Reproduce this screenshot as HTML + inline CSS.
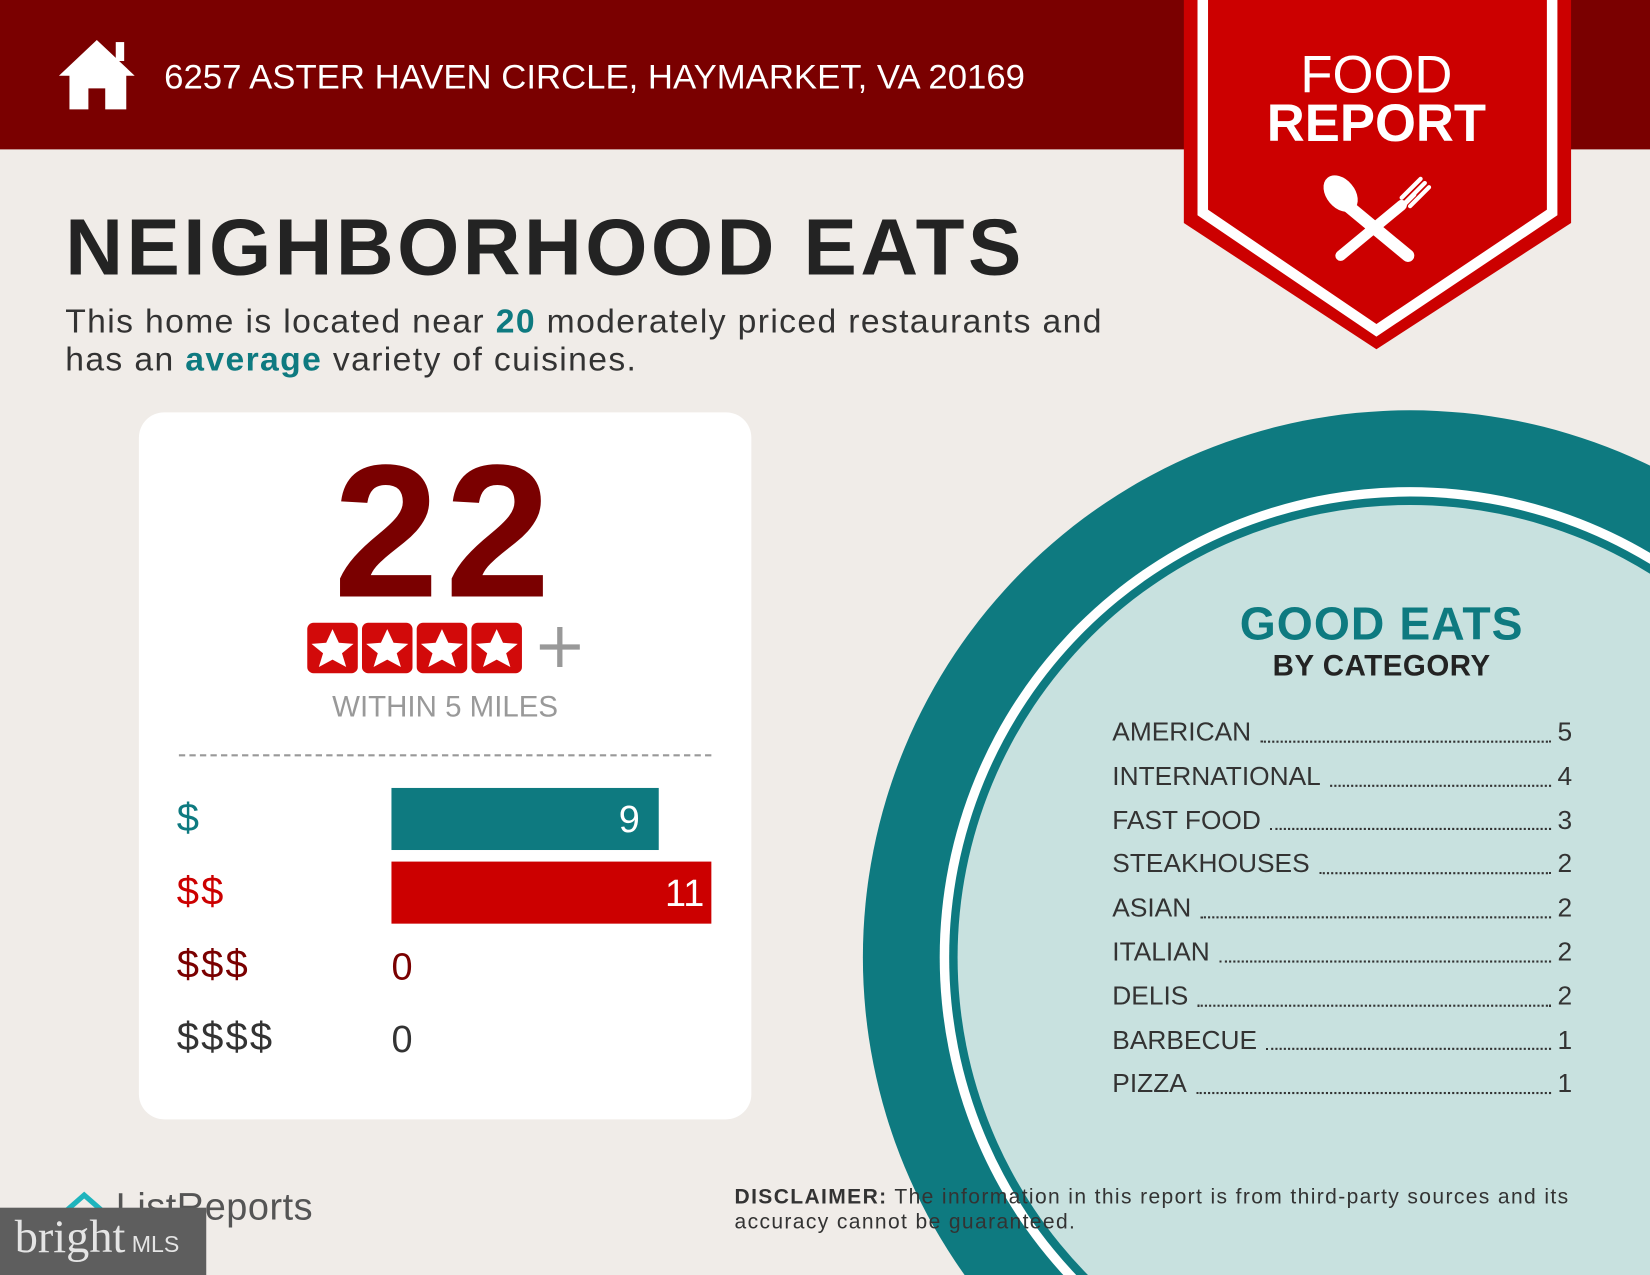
<!DOCTYPE html>
<html><head><meta charset="utf-8"><style>
*{margin:0;padding:0;box-sizing:border-box}
html,body{width:1650px;height:1275px;overflow:hidden;background:#f0ece8}
#w{position:absolute;left:0;top:0;width:1568px;height:1212px;transform:scale(1.05230,1.0520);transform-origin:0 0;font-family:"Liberation Sans",sans-serif;overflow:hidden}
.a{position:absolute;white-space:nowrap}
</style></head><body><div id="w">
<svg class="a" style="left:0;top:0" width="1568" height="1212">
<circle cx="1340" cy="910" r="520" fill="#0e7a80"/>
<circle cx="1340" cy="910" r="447" fill="#fff"/>
<circle cx="1340" cy="910" r="438" fill="#0e7a80"/>
<circle cx="1340" cy="910" r="430" fill="#c8e1df"/>
<rect x="0" y="0" width="1568" height="142" fill="#7a0000"/>
<polygon points="1125,0 1493,0 1493,212 1308,332 1125,212" fill="#cc0000"/>
<polyline points="1143,0 1143,202 1308,314 1475,202 1475,0" fill="none" stroke="#fff" stroke-width="10"/>
<g fill="#fff">
<path d="M56,72 L92,38 L128,72 L120,72 L120,104 L100,104 L100,84 L84,84 L84,104 L66,104 L66,72Z"/>
<rect x="110" y="40" width="8" height="18"/>
</g>
<g stroke="#fff" stroke-linecap="round" fill="#fff">
<line x1="1280" y1="195" x2="1338" y2="243" stroke-width="12"/>
<ellipse cx="1274" cy="184" rx="13" ry="19" transform="rotate(-40 1274 184)"/>
<line x1="1274" y1="243" x2="1332" y2="195" stroke-width="10"/>
<path d="M1327,202 L1344,185 M1332,188 L1350,170 M1336,192 L1354,174 M1340,196 L1358,178" stroke-width="4"/>
</g>
<rect x="132" y="392" width="582" height="672" rx="24" fill="#fff"/>
<line x1="170" y1="718" x2="676" y2="718" stroke="#999" stroke-width="2" stroke-dasharray="6,4"/>
<g fill="#d20a0a">
<rect x="292" y="592" width="48" height="48" rx="6"/><rect x="344" y="592" width="48" height="48" rx="6"/><rect x="396" y="592" width="48" height="48" rx="6"/><rect x="448" y="592" width="48" height="48" rx="6"/>
</g>
<g fill="#fff">
<polygon id="s" points="316,598 322,611 336,612 325,621 329,634 316,627 303,634 307,621 296,612 310,611"/>
<use href="#s" x="52"/><use href="#s" x="104"/><use href="#s" x="156"/>
</g>
<path d="M513,615 h38 M532,596 v38" stroke="#999" stroke-width="5"/>
<rect x="372" y="749" width="254" height="59" fill="#0e7a80"/>
<rect x="372" y="819" width="304" height="59" fill="#cc0000"/>
<path d="M64,1150 L80,1136 L96,1150" fill="none" stroke="#1eb4bd" stroke-width="5"/>
</svg>
<div class="a" style="left:156px;top:54px;font-size:33px;color:#fff">6257 ASTER HAVEN CIRCLE, HAYMARKET, VA 20169</div>
<div class="a" style="left:1308px;top:48px;transform:translateX(-50%);text-align:center;color:#fff;font-size:50px;line-height:46px">FOOD<br><b>REPORT</b></div>
<div class="a" style="left:62px;top:192px;font-size:76px;font-weight:bold;color:#232323;letter-spacing:3.3px">NEIGHBORHOOD EATS</div>
<div class="a" style="left:62px;top:287px;font-size:32px;line-height:36px;color:#333;letter-spacing:1.3px">This home is located near <b style="color:#0e7a80">20</b> moderately priced restaurants and<br>has an <b style="color:#0e7a80">average</b> variety of cuisines.</div>
<div class="a" style="left:423px;top:402px;transform:translateX(-50%);font-size:180px;font-weight:bold;color:#7a0000;letter-spacing:6px">22</div>
<div class="a" style="left:423px;top:656px;transform:translateX(-50%);font-size:28px;color:#999">WITHIN 5 MILES</div>
<div class="a" style="left:168px;top:757px;font-size:38px;color:#0e7a80">$</div>
<div class="a" style="left:168px;top:827px;font-size:38px;color:#cc0000;letter-spacing:2px">$$</div>
<div class="a" style="left:168px;top:896px;font-size:38px;color:#7a0000;letter-spacing:2px">$$$</div>
<div class="a" style="left:168px;top:965px;font-size:38px;color:#333;letter-spacing:2px">$$$$</div>
<div class="a" style="left:588px;top:758px;font-size:36px;color:#fff">9</div>
<div class="a" style="left:632px;top:828px;font-size:36px;color:#fff">11</div>
<div class="a" style="left:372px;top:898px;font-size:36px;color:#7a0000">0</div>
<div class="a" style="left:372px;top:967px;font-size:36px;color:#333">0</div>
<div class="a" style="left:1313px;top:570px;transform:translateX(-50%);text-align:center;font-size:44px;font-weight:bold;color:#0e7a80;line-height:48px;letter-spacing:1px">GOOD EATS<br><span style="font-size:28px;color:#232323;line-height:30px;display:block;letter-spacing:0.5px">BY CATEGORY</span></div>
<div class="a" style="left:1057px;top:676px;width:437px;font-size:25px;color:#333;line-height:41.8px">
<div style="display:flex"><span>AMERICAN&nbsp;</span><span style="flex:1;border-bottom:2px dotted #333;margin:0 6px 12px 2px"></span><span>5</span></div>
<div style="display:flex"><span>INTERNATIONAL&nbsp;</span><span style="flex:1;border-bottom:2px dotted #333;margin:0 6px 12px 2px"></span><span>4</span></div>
<div style="display:flex"><span>FAST FOOD&nbsp;</span><span style="flex:1;border-bottom:2px dotted #333;margin:0 6px 12px 2px"></span><span>3</span></div>
<div style="display:flex"><span>STEAKHOUSES&nbsp;</span><span style="flex:1;border-bottom:2px dotted #333;margin:0 6px 12px 2px"></span><span>2</span></div>
<div style="display:flex"><span>ASIAN&nbsp;</span><span style="flex:1;border-bottom:2px dotted #333;margin:0 6px 12px 2px"></span><span>2</span></div>
<div style="display:flex"><span>ITALIAN&nbsp;</span><span style="flex:1;border-bottom:2px dotted #333;margin:0 6px 12px 2px"></span><span>2</span></div>
<div style="display:flex"><span>DELIS&nbsp;</span><span style="flex:1;border-bottom:2px dotted #333;margin:0 6px 12px 2px"></span><span>2</span></div>
<div style="display:flex"><span>BARBECUE&nbsp;</span><span style="flex:1;border-bottom:2px dotted #333;margin:0 6px 12px 2px"></span><span>1</span></div>
<div style="display:flex"><span>PIZZA&nbsp;</span><span style="flex:1;border-bottom:2px dotted #333;margin:0 6px 12px 2px"></span><span>1</span></div>
</div>
<div class="a" style="left:698px;top:1126px;font-size:20px;line-height:24px;color:#333;letter-spacing:1.3px"><b>DISCLAIMER:</b> The information in this report is from third-party sources and its<br>accuracy cannot be guaranteed.</div>
<div class="a" style="left:110px;top:1126px;font-size:36px;color:#555;letter-spacing:0.5px">ListReports</div>
<div class="a" style="left:0;top:1148px;width:196px;height:64px;background:#5e5e5e"></div>
<div class="a" style="left:14px;top:1150px;font-family:'Liberation Serif',serif;font-size:44px;color:#e4e4e4">bright<span style="font-family:'Liberation Sans',sans-serif;font-size:22px"> MLS</span></div>
</div></body></html>
